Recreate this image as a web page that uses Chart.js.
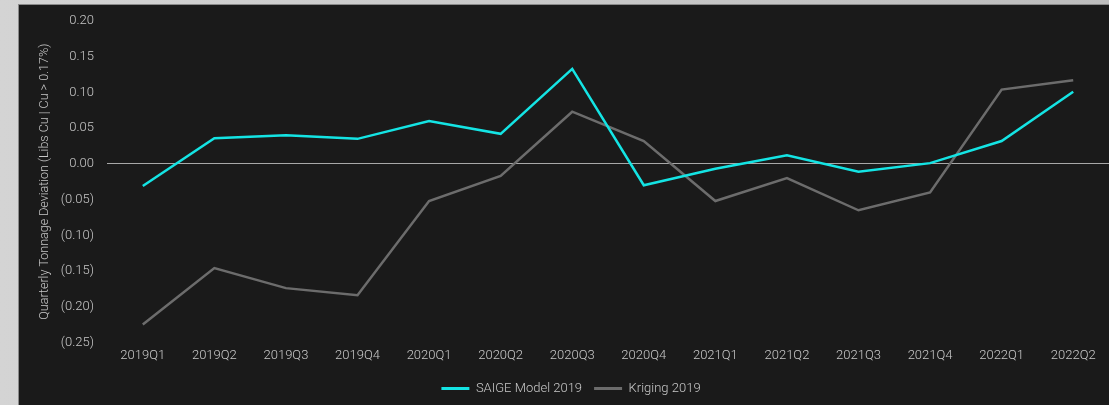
<!DOCTYPE html>
<html>
<head>
<meta charset="utf-8">
<script src="https://cdn.jsdelivr.net/npm/chart.js@4/dist/chart.umd.min.js"></script>
<style>
  html, body { margin: 0; padding: 0; }
  body { width: 1109px; height: 405px; background: linear-gradient(90deg, #d4d4d4, #bdbdbd); overflow: hidden; position: relative; }
  #panel { position: absolute; left: 18px; top: 4px; width: 1091px; height: 401px; background: #1a1a1a; border-left: 1px solid #8a8a8a; border-top: 1px solid #8a8a8a; box-sizing: border-box; }
  #panel canvas { display: block; }
</style>
</head>
<body>
<div id="panel"><canvas id="chart" width="1090" height="400"></canvas></div>
<script>
const quarters = ["2019Q1", "2019Q2", "2019Q3", "2019Q4", "2020Q1", "2020Q2", "2020Q3",
  "2020Q4", "2021Q1", "2021Q2", "2021Q3", "2021Q4", "2022Q1", "2022Q2"];
const saigeValues = [-0.031, 0.036, 0.040, 0.035, 0.060, 0.042, 0.133,
  -0.030, -0.007, 0.012, -0.011, 0.001, 0.032, 0.101];
const krigingValues = [-0.225, -0.146, -0.174, -0.184, -0.052, -0.017, 0.073,
  0.032, -0.052, -0.020, -0.065, -0.040, 0.104, 0.117];

const textColor = "#c8c8c8";
const fontFamily = "Roboto, 'Open Sans', sans-serif";

function fmt(v) {
  const s = Math.abs(v).toFixed(2);
  return v < -0.0001 ? "(" + s + ")" : s;
}

new Chart(document.getElementById("chart"), {
  type: "line",
  data: {
    labels: quarters,
    datasets: [
      {
        label: "SAIGE Model 2019",
        data: saigeValues,
        borderColor: "#14e4e4",
        backgroundColor: "#14e4e4",
        borderWidth: 2.5,
        pointRadius: 0,
        tension: 0
      },
      {
        label: "Kriging 2019",
        data: krigingValues,
        borderColor: "#6c6c6c",
        backgroundColor: "#6c6c6c",
        borderWidth: 2.5,
        pointRadius: 0,
        tension: 0
      }
    ]
  },
  options: {
    responsive: false,
    animation: false,
    layout: { autoPadding: false, padding: { top: 16, right: 0, bottom: 0, left: 14 } },
    plugins: {
      tooltip: { enabled: false },
      legend: {
        position: "bottom",
        labels: {
          color: textColor,
          font: { family: fontFamily, size: 13, weight: 300 },
          boxWidth: 28,
          boxHeight: 3,
          padding: 12,
          generateLabels: function (chart) {
            const items = Chart.defaults.plugins.legend.labels.generateLabels(chart);
            items.forEach(function (it) { it.lineWidth = 0; });
            return items;
          }
        }
      }
    },
    scales: {
      x: {
        offset: true,
        grid: { display: false, drawTicks: false },
        border: { display: false },
        ticks: { color: textColor, font: { family: fontFamily, size: 13, weight: 300 }, padding: 6, maxRotation: 0 }
      },
      y: {
        min: -0.25,
        max: 0.20,
        afterFit: function (scale) {
          scale.width = 74;
          scale.paddingTop = 0;
          scale.paddingBottom = 0;
        },
        grid: {
          drawTicks: false,
          color: function (ctx) { return ctx.tick && Math.abs(ctx.tick.value) < 1e-9 ? "#a8a8a8" : "rgba(0,0,0,0)"; },
          lineWidth: 1
        },
        border: { display: false },
        ticks: {
          stepSize: 0.05,
          color: textColor,
          font: { family: fontFamily, size: 13, weight: 300 },
          padding: 13,
          callback: function (v) { return fmt(v); }
        },
        title: {
          display: true,
          text: "Quarterly Tonnage Deviation (Libs Cu | Cu > 0.17%)",
          color: textColor,
          font: { family: fontFamily, size: 12.5, weight: 300 },
          padding: { top: 4, bottom: 0 }
        }
      }
    }
  }
});
</script>
</body>
</html>
